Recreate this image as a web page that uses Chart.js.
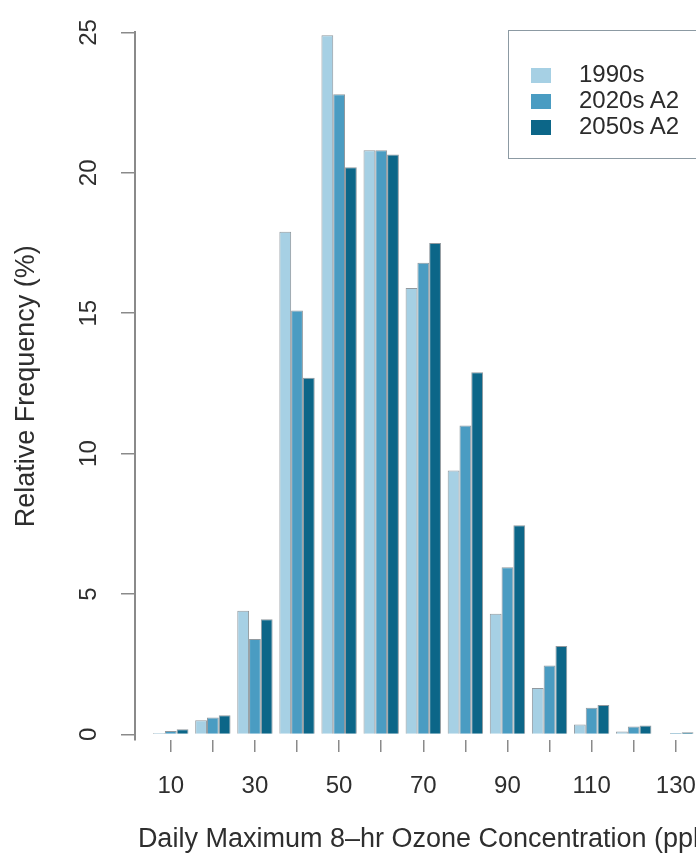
<!DOCTYPE html>
<html>
<head>
<meta charset="utf-8">
<script src="https://cdn.jsdelivr.net/npm/chart.js@4.4.0/dist/chart.umd.min.js"></script>
<style>
  html, body { margin: 0; padding: 0; overflow: hidden; background: #fff; }
  #wrap { position: relative; width: 740px; height: 858px; }
  #legend {
    position: absolute; left: 508px; top: 30px; width: 210px;
    padding: 30px 0 19px 0; border: 1.5px solid #8c9aa3;
    font: 24px "Liberation Sans", Arial, sans-serif; color: #2b2b2b;
  }
  .row { height: 26px; line-height: 26px; white-space: nowrap; }
  .sw { display: inline-block; width: 20px; height: 15px; margin: 0 28px 0 22px; vertical-align: -1px; }
</style>
</head>
<body>
<div id="wrap">
  <canvas id="histChart"></canvas>
  <div id="legend"></div>
</div>
<script>
// ozone concentration bins (ppb) and the ticks that get a label
const categories = [10, 20, 30, 40, 50, 60, 70, 80, 90, 100, 110, 120, 130];
const labelledTicks = [10, 30, 50, 70, 90, 110, 130];
const yTicks = [0, 5, 10, 15, 20, 25];

// relative frequency (%) per bin
const freq1990s = [0.05, 0.5, 4.4, 17.9, 24.9, 20.8, 15.9, 9.4, 4.3, 1.65, 0.35, 0.1, 0.02];
const freq2020s = [0.12, 0.6, 3.4, 15.1, 22.8, 20.8, 16.8, 11.0, 5.95, 2.45, 0.95, 0.28, 0.05];
const freq2050s = [0.18, 0.68, 4.1, 12.7, 20.2, 20.65, 17.5, 12.9, 7.45, 3.15, 1.05, 0.32, 0.08];

const seriesNames = ['1990s', '2020s A2', '2050s A2'];
const seriesColors = ['#a6d0e4', '#4a9cc2', '#0c6688'];

const fontFamily = '"Liberation Sans", Arial, Helvetica, sans-serif';
const textColor = '#2e2e2e';
const axisColor = '#8a8a8a';

const series = [freq1990s, freq2020s, freq2050s];
const toPoints = vals => categories.map((c, i) => ({ x: c, y: vals[i] }));

const chart = new Chart(document.getElementById('histChart'), {
    type: 'bar',
    data: {
        datasets: series.map((vals, i) => ({
            label: seriesNames[i],
            data: toPoints(vals),
            backgroundColor: seriesColors[i],
            borderColor: 'rgba(55, 70, 80, 0.55)',
            borderWidth: 1,
            categoryPercentage: 0.84,
            barPercentage: 1
        }))
    },
    options: {
        responsive: true,
        maintainAspectRatio: false,
        animation: false,
        layout: { padding: { top: 22, right: 20, left: 0, bottom: 0 } },
        plugins: {
            legend: { display: false },
            tooltip: { enabled: false }
        },
        scales: {
            x: {
                type: 'linear',
                min: 1.5,
                max: 140.5,
                offset: false,
                afterBuildTicks: scale => { scale.ticks = categories.map(v => ({ value: v })); },
                afterFit: scale => { scale.height = 118; },
                grid: { offset: false, drawOnChartArea: false, tickLength: 12, color: axisColor, lineWidth: 1.5 },
                border: { display: false },
                ticks: {
                    autoSkip: false,
                    maxRotation: 0,
                    padding: 20,
                    color: textColor,
                    font: { family: fontFamily, size: 24 },
                    callback: v => labelledTicks.includes(v) ? String(v) : ''
                },
                title: {
                    display: true,
                    text: 'Daily Maximum 8–hr Ozone Concentration (ppb)',
                    color: textColor,
                    font: { family: fontFamily, size: 27 },
                    padding: { top: 0, bottom: 2 }
                }
            },
            y: {
                min: -0.2,
                max: 25,
                afterBuildTicks: scale => { scale.ticks = yTicks.map(v => ({ value: v })); },
                afterFit: scale => { scale.width = 135; },
                grid: { drawOnChartArea: false, tickLength: 14, color: axisColor, lineWidth: 1.5 },
                border: { display: true, color: axisColor, width: 2 },
                ticks: {
                    minRotation: 90,
                    maxRotation: 90,
                    crossAlign: 'center',
                    padding: 18,
                    color: textColor,
                    font: { family: fontFamily, size: 24 }
                },
                title: {
                    display: true,
                    text: 'Relative Frequency (%)',
                    color: textColor,
                    font: { family: fontFamily, size: 27 },
                    padding: { top: 10, bottom: 0 }
                }
            }
        }
    }
});

// legend box in the top right corner, built from the datasets
const legendEl = document.getElementById('legend');
chart.data.datasets.forEach(ds => {
    const row = document.createElement('div');
    row.className = 'row';
    const sw = document.createElement('span');
    sw.className = 'sw';
    sw.style.background = ds.backgroundColor;
    row.appendChild(sw);
    row.appendChild(document.createTextNode(ds.label));
    legendEl.appendChild(row);
});
</script>
</body>
</html>
